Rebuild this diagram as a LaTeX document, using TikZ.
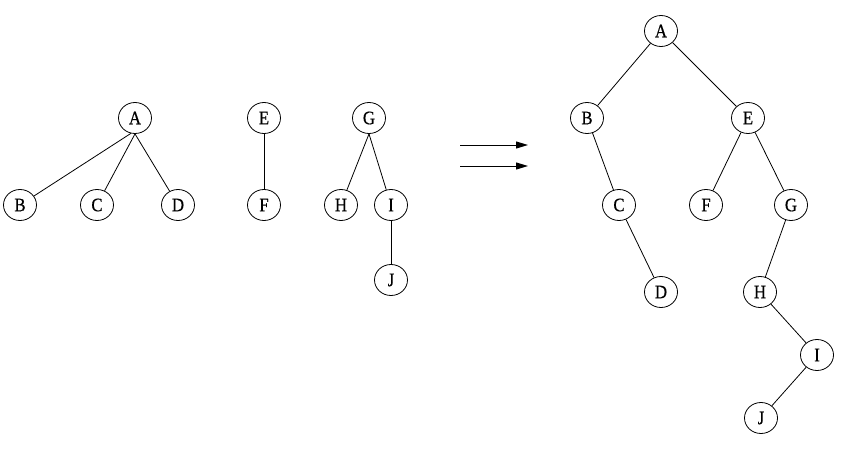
\documentclass[tikz,border=0pt]{standalone}
\usepackage{fontspec}
\setmainfont{Liberation Serif}[FakeStretch=0.88,FakeBold=0.6]
\usetikzlibrary{arrows.meta,shapes.geometric}
\tikzset{
  vtx/.style={draw, ellipse, minimum width=33pt, minimum height=31pt, inner sep=0pt, line width=0.8pt, font=\fontsize{19}{19}\selectfont},
  edg/.style={line width=0.8pt},
  arr/.style={line width=1pt, -{Triangle[length=12pt,width=7pt]}}
}
\begin{document}
\begin{tikzpicture}[x=1pt,y=-1pt]
\useasboundingbox (0,0) rectangle (843,452);
% left forest
\node[vtx] (A1) at (135,118) {A};
\node[vtx] (B1) at (20,205) {B};
\node[vtx] (C1) at (97,205) {C};
\node[vtx] (D1) at (178,205) {D};
\node[vtx] (E1) at (264,118) {E};
\node[vtx] (F1) at (264,205) {F};
\node[vtx] (G1) at (369,118) {G};
\node[vtx] (H1) at (341,205) {H};
\node[vtx] (I1) at (391,205) {I};
\node[vtx] (J1) at (391,280) {J};
\draw[edg] (A1.255) -- (B1);
\draw[edg] (A1.south) -- (C1);
\draw[edg] (A1.south) -- (D1);
\draw[edg] (E1) -- (F1);
\draw[edg] (G1.south) -- (H1);
\draw[edg] (G1.south) -- (I1);
\draw[edg] (I1) -- (J1);
% arrows
\coordinate (p1) at (460,145);
\coordinate (q1) at (528,145);
\coordinate (p2) at (460,166);
\coordinate (q2) at (528,166);
\draw[arr] (p1) -- (q1);
\draw[arr] (p2) -- (q2);
% right binary tree
\node[vtx] (A2) at (661,31) {A};
\node[vtx] (B2) at (587,118) {B};
\node[vtx] (E2) at (748,118) {E};
\node[vtx] (C2) at (619,205) {C};
\node[vtx] (F2) at (706,205) {F};
\node[vtx] (G2) at (791,205) {G};
\node[vtx] (D2) at (661,292) {D};
\node[vtx] (H2) at (760,292) {H};
\node[vtx] (I2) at (817,355) {I};
\node[vtx] (J2) at (761,418) {J};
\draw[edg] (A2) -- (B2);
\draw[edg] (A2) -- (E2);
\draw[edg] (B2) -- (C2);
\draw[edg] (C2) -- (D2);
\draw[edg] (E2) -- (F2);
\draw[edg] (E2) -- (G2);
\draw[edg] (G2) -- (H2);
\draw[edg] (H2) -- (I2);
\draw[edg] (I2) -- (J2);
\end{tikzpicture}
\end{document}
